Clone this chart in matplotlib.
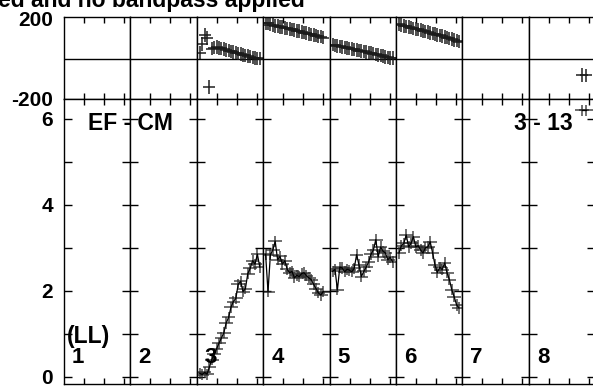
import matplotlib
matplotlib.use('Agg')
import matplotlib.pyplot as plt

plt.rcParams['font.family'] = ['Liberation Sans', 'DejaVu Sans']
plt.rcParams['font.weight'] = 'bold'

# panel labels
panel_labels = ['1', '2', '3', '4', '5', '6', '7', '8']
baseline_label = 'EF - CM'
scan_label = '3 - 13'
pol_label = '(LL)'
title_text = 'ed and no bandpass applied'

# panel 3
t3 = [0.15, 0.27, 0.39, 0.51, 0.63, 0.75, 0.87, 0.99, 1.11, 1.23, 1.35, 1.47, 1.59,
      1.71, 1.83, 1.95, 2.07, 2.19, 2.31, 2.43, 2.55, 2.67, 2.79, 2.91, 3.03, 3.15]
amp3 = [0.08, 0.05, 0.10, 0.06, 0.22, 0.40, 0.52, 0.65, 0.78, 0.90, 1.02, 1.25, 1.38,
        1.62, 1.75, 1.82, 2.15, 2.22, 1.98, 2.05, 2.40, 2.52, 2.70, 2.62, 2.85, 2.55]
phs3 = [30, 73, 118, 103, -142, 50, 55, 58, 54, 52, 48, 44, 40,
        36, 33, 30, 26, 23, 19, 16, 13, 10, 5, 3, 1, 0]

# panel 4
t4 = [0.12, 0.24, 0.36, 0.48, 0.60, 0.72, 0.84, 0.96, 1.08, 1.20, 1.32, 1.44, 1.56,
      1.68, 1.80, 1.92, 2.04, 2.16, 2.28, 2.40, 2.52, 2.64, 2.76, 2.88, 3.00]
amp4 = [2.85, 1.98, 2.84, 2.95, 3.15, 2.72, 2.80, 2.62, 2.70, 2.50, 2.42, 2.45, 2.30,
        2.36, 2.33, 2.40, 2.42, 2.35, 2.30, 2.26, 2.15, 2.05, 1.95, 1.90, 1.98]
phs4 = [180, 177, 171, 170, 165, 163, 159, 158, 154, 152, 148, 147, 143,
        140, 138, 134, 131, 129, 124, 122, 118, 116, 112, 110, 106]

# panel 5
t5 = [0.15, 0.27, 0.39, 0.51, 0.63, 0.75, 0.87, 0.99, 1.11, 1.23, 1.35, 1.47, 1.59,
      1.71, 1.83, 1.95, 2.07, 2.19, 2.31, 2.43, 2.55, 2.67, 2.79, 2.91, 3.03, 3.15]
amp5 = [2.45, 2.50, 2.02, 2.55, 2.53, 2.44, 2.50, 2.48, 2.44, 2.52, 2.84, 2.60, 2.33,
        2.45, 2.55, 2.67, 2.85, 2.95, 3.19, 2.79, 3.02, 2.92, 2.88, 2.72, 2.78, 2.67]
phs5 = [70, 67, 63, 61, 58, 57, 53, 51, 48, 46, 44, 40, 38,
        36, 32, 30, 27, 25, 21, 18, 16, 12, 9, 6, 4, 2]

# panel 6
t6 = [0.15, 0.27, 0.39, 0.51, 0.63, 0.75, 0.87, 0.99, 1.11, 1.23, 1.35, 1.47, 1.59,
      1.71, 1.83, 1.95, 2.07, 2.19, 2.31, 2.43, 2.55, 2.67, 2.79, 2.91, 3.03, 3.15]
amp6 = [2.88, 3.05, 3.10, 3.30, 3.02, 3.10, 3.26, 3.02, 3.05, 2.95, 2.88, 3.00, 3.02,
        3.14, 2.88, 2.60, 2.42, 2.55, 2.49, 2.65, 2.42, 2.26, 2.02, 1.86, 1.67, 1.60]
phs6 = [172, 169, 165, 162, 160, 156, 152, 150, 147, 144, 140, 137, 133,
        130, 126, 123, 120, 117, 113, 109, 106, 102, 99, 94, 90, 86]

# panel 8
t8 = [2.66, 2.86]
amp8 = [6.2, 6.2]
phs8 = [-82, -84]

series = {2: (t3, amp3, phs3), 3: (t4, amp4, phs4), 4: (t5, amp5, phs5),
          5: (t6, amp6, phs6), 7: (t8, amp8, phs8)}

W, H = 593, 387
fig = plt.figure(figsize=(W / 100, H / 100), dpi=100)


def box(x0, y0, x1, y1):
    return [x0 / W, 1 - y1 / H, (x1 - x0) / W, (y1 - y0) / H]


left0 = 64.0
pw = 66.4
top_y0, mid_y, bot_y1 = 17.3, 98.7, 384.0

for i in range(8):
    x0 = left0 + pw * i
    ax_p = fig.add_axes(box(x0, top_y0, x0 + pw, mid_y))
    ax_a = fig.add_axes(box(x0, mid_y, x0 + pw, bot_y1))

    for ax in (ax_p, ax_a):
        ax.set_xlim(0, 3.32)
        ax.set_xticks([1, 2, 3])
        ax.tick_params(axis='x', which='both', direction='in', top=True, bottom=True,
                       length=4, width=1, labelbottom=False)
        for s in ax.spines.values():
            s.set_linewidth(1.0)
            s.set_color('black')

    ax_p.set_ylim(-200, 207)
    ax_p.axhline(0, color='black', lw=1.0)
    ax_p.set_yticks([-200, 200])
    ax_p.tick_params(axis='y', length=0, pad=8, labelsize=15)

    ax_a.set_ylim(-0.17, 6.47)
    ax_a.set_yticks([0, 1, 2, 3, 4, 5, 6])
    ax_a.tick_params(axis='y', direction='in', left=True, right=True, length=6,
                     width=1, pad=8, labelsize=15)
    if i == 0:
        ax_p.set_yticklabels(['-200', '200'], fontweight='bold')
        ax_a.set_yticklabels(['0', '', '2', '', '4', '', '6'], fontweight='bold')
    else:
        ax_p.tick_params(labelleft=False)
        ax_a.tick_params(labelleft=False)

    if i in series:
        t, amp, phs = series[i]
        # phase: dense crosses only
        ax_p.errorbar(t, phs, xerr=0.3, yerr=34, fmt='none', ecolor='#1a1a1a',
                      elinewidth=1.2, alpha=0.9)
        # amplitude: crosses joined by a thin line
        ax_a.errorbar(t, amp, xerr=0.34, yerr=0.13, fmt='none', ecolor='#2a2a2a',
                      elinewidth=1.1, alpha=0.85)
        ax_a.plot(t, amp, color='black', lw=0.9)

    fig.text((x0 + 8) / W, 1 - 357.5 / H, panel_labels[i], ha='left', va='center',
             fontsize=16, fontweight='bold')

fig.text(88 / W, 1 - 124 / H, baseline_label, ha='left', va='center',
         fontsize=16.5, fontweight='bold')
fig.text(573 / W, 1 - 124 / H, scan_label, ha='right', va='center',
         fontsize=16.5, fontweight='bold')
fig.text(67 / W, 1 - 337 / H, pol_label, ha='left', va='center',
         fontsize=16.5, fontweight='bold')
fig.text(305 / W, 1 - 7 / H, title_text, ha='right', va='baseline',
         fontsize=16.5, fontweight='bold')

fig.savefig('out.png', dpi=100)
